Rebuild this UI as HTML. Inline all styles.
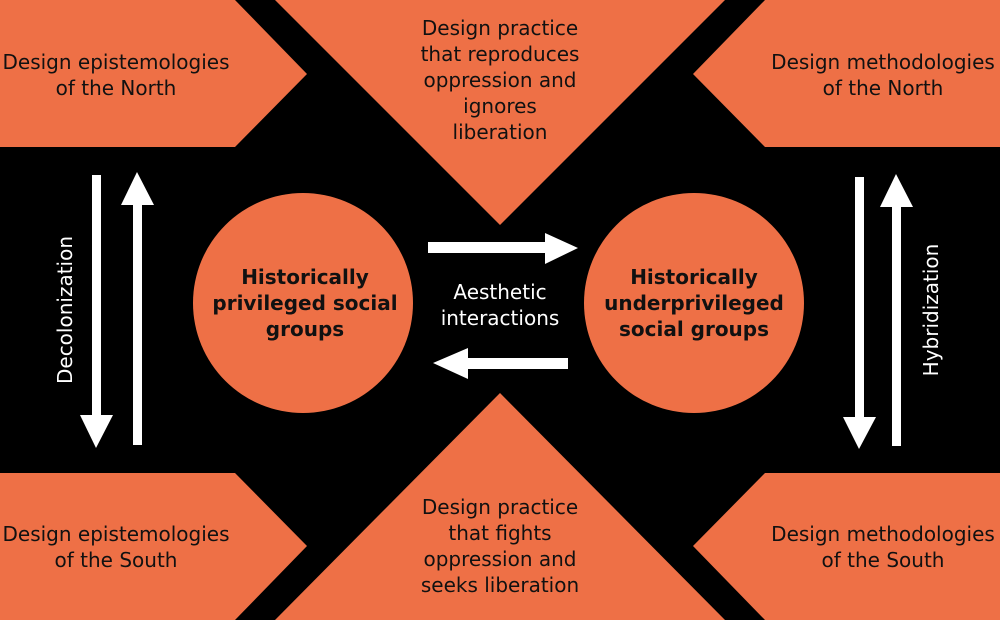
<!DOCTYPE html>
<html><head><meta charset="utf-8"><style>
html,body{margin:0;padding:0;background:#000}
svg{display:block}
text{font-family:"DejaVu Sans","Liberation Sans",sans-serif;font-size:20px}
</style></head><body>
<svg width="1000" height="620" viewBox="0 0 1000 620" xmlns="http://www.w3.org/2000/svg">
<rect width="1000" height="620" fill="#000"/>
<g fill="#EE7046">
<polygon points="0,0 235,0 307,74 235,147 0,147"/>
<polygon points="0,473 235,473 307,546 235,620 0,620"/>
<polygon points="1000,0 765,0 693,74 765,147 1000,147"/>
<polygon points="1000,473 765,473 693,546 765,620 1000,620"/>
<polygon points="275,0 725,0 500,225"/>
<polygon points="275,620 725,620 500,393"/>
<circle cx="303" cy="303" r="110"/>
<circle cx="694" cy="303" r="110"/>
</g>
<g fill="#fff">
<rect x="92" y="175" width="9" height="242"/>
<polygon points="80,415 113,415 96,448"/>
<rect x="133" y="204" width="9" height="241"/>
<polygon points="121,205 154,205 137,172"/>
<rect x="855" y="177" width="9" height="242"/>
<polygon points="843,417 876,417 859,449"/>
<rect x="892" y="205" width="9" height="241"/>
<polygon points="880,207 913,207 896,174"/>
<rect x="428" y="242" width="122" height="11"/>
<polygon points="545,233 578,248 545,264"/>
<rect x="466" y="358" width="102" height="11"/>
<polygon points="468,348 433,363 468,379"/>
</g>
<g fill="#111" text-anchor="middle">
<text x="116" y="69">Design epistemologies</text>
<text x="116" y="95">of the North</text>
<text x="116" y="541">Design epistemologies</text>
<text x="116" y="567">of the South</text>
<text x="883" y="69">Design methodologies</text>
<text x="883" y="95">of the North</text>
<text x="883" y="541">Design methodologies</text>
<text x="883" y="567">of the South</text>
<text x="500" y="35">Design practice</text>
<text x="500" y="61">that reproduces</text>
<text x="500" y="87">oppression and</text>
<text x="500" y="113">ignores</text>
<text x="500" y="139">liberation</text>
<text x="500" y="514">Design practice</text>
<text x="500" y="540">that fights</text>
<text x="500" y="566">oppression and</text>
<text x="500" y="592">seeks liberation</text>
<g font-weight="bold">
<text x="305" y="284">Historically</text>
<text x="305" y="310">privileged social</text>
<text x="305" y="336">groups</text>
<text x="694" y="284">Historically</text>
<text x="694" y="310">underprivileged</text>
<text x="694" y="336">social groups</text>
</g>
</g>
<g fill="#fff" text-anchor="middle">
<text x="500" y="299">Aesthetic</text>
<text x="500" y="325">interactions</text>
<text transform="translate(72,310) rotate(-90)">Decolonization</text>
<text transform="translate(938,310) rotate(-90)">Hybridization</text>
</g>
</svg>
</body></html>
